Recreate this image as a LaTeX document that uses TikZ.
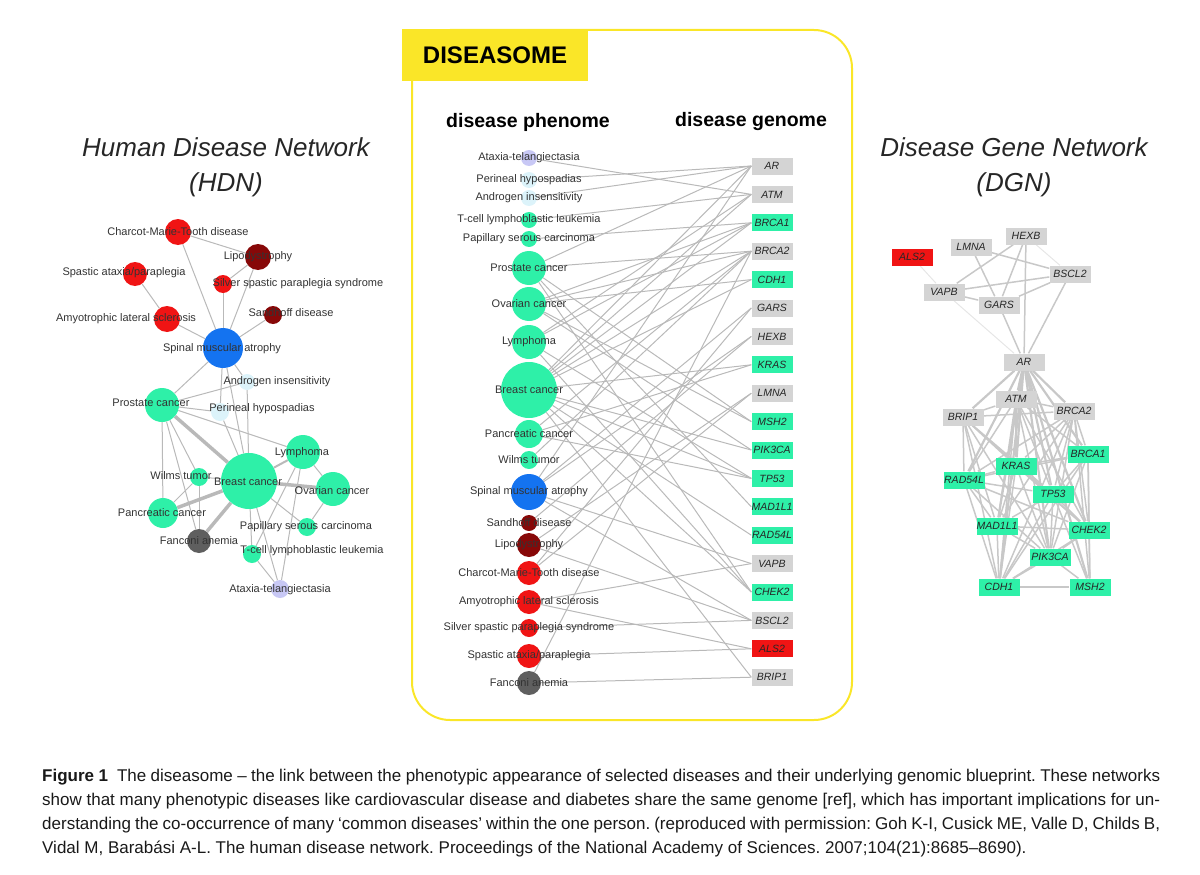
\documentclass[tikz,border=0pt]{standalone}
\usepackage{fontspec}
\setmainfont{Liberation Sans}
\usetikzlibrary{positioning}

\definecolor{cGreen}{RGB}{46,240,168}
\definecolor{cBlue}{RGB}{20,115,240}
\definecolor{cDark}{RGB}{135,8,8}
\definecolor{cRed}{RGB}{240,20,20}
\definecolor{cFan}{RGB}{95,95,95}
\definecolor{cLav}{RGB}{200,200,245}
\definecolor{cCyan}{RGB}{220,243,250}
\definecolor{cBox}{RGB}{212,212,212}
\definecolor{cYel}{RGB}{250,230,40}
\definecolor{cEdge}{RGB}{185,185,185}
\definecolor{cNet}{RGB}{200,200,200}

\pgfdeclarelayer{bg}
\pgfsetlayers{bg,main}

\tikzset{
  dis/.style={circle, inner sep=0pt},
  lab/.style={inner sep=0pt, text=black!80, font=\fontsize{11}{13}\selectfont},
  gene/.style={rectangle, inner sep=0pt, fill=cBox, minimum width=41pt, minimum height=17pt,
    text=black!85, font=\fontsize{10.5}{12}\selectfont\itshape},
  link/.style={draw=cEdge, line width=1pt},
  heavy/.style={draw=cEdge, line width=3.5pt},
  glink/.style={draw=cNet, line width=1.5pt},
  nettitle/.style={font=\fontsize{26}{30}\selectfont\itshape, text=black!85},
  colhead/.style={font=\fontsize{19.5}{22}\selectfont\bfseries},
  capline/.style={anchor=base west, inner sep=0pt, text=black!90, font=\fontsize{17}{20}\selectfont\frenchspacing},
}

\begin{document}
\begin{tikzpicture}[x=1pt, y=-1pt]
\useasboundingbox (0,0) rectangle (1200,875);

% titles
\node[nettitle] (hdn1) at (226,147) {Human Disease Network};
\node[nettitle] (hdn2) at (226,185) {(HDN)};
\node[nettitle] (dgn1) at (1014,147) {Disease Gene Network};
\node[nettitle] (dgn2) at (1014,185) {(DGN)};

% diseasome frame
\draw[cYel, line width=2pt, rounded corners=38pt] (412,30) -- (852,30) -- (852,720) -- (412,720) -- cycle;
\node[fill=cYel, minimum width=186pt, minimum height=52pt, inner sep=0pt,
      font=\fontsize{24}{28}\selectfont\bfseries] (tab) at (495,55) {DISEASOME};
\node[colhead] (phen) at (528,122) {disease phenome};
\node[colhead] (geno) at (751,122) {disease genome};

% disease phenome
\foreach \n/\y/\r/\c/\t in {
  at/158/8/cLav/Ataxia-telangiectasia,
  ph/180/8/cCyan/Perineal hypospadias,
  ai/198/8/cCyan/Androgen insensitivity,
  tc/220/8/cGreen/T-cell lymphoblastic leukemia,
  ps/239/8/cGreen/Papillary serous carcinoma,
  pc/268/17/cGreen/Prostate cancer,
  oc/304/17/cGreen/Ovarian cancer,
  ly/342/17/cGreen/Lymphoma,
  bc/390/28/cGreen/Breast cancer,
  pa/434/14/cGreen/Pancreatic cancer,
  wt/460/9/cGreen/Wilms tumor,
  sma/492/18/cBlue/Spinal muscular atrophy,
  sd/523/8/cDark/Sandhoff disease,
  li/545/12/cDark/Lipodystrophy,
  cmt/573/12/cRed/Charcot-Marie-Tooth disease,
  als/602/12/cRed/Amyotrophic lateral sclerosis,
  ss/628/9/cRed/Silver spastic paraplegia syndrome,
  sa/656/12/cRed/{Spastic ataxia/paraplegia},
  fa/683/12/cFan/Fanconi anemia}
{
  \node[dis, fill=\c, minimum size=2*\r pt] (p-\n) at (529,\y) {};
  \node[lab] (p-\n-t) at (p-\n) {\t};
}

% disease genome
\foreach \g/\c [count=\k from 0] in {AR/cBox, ATM/cBox, BRCA1/cGreen, BRCA2/cBox, CDH1/cGreen,
  GARS/cBox, HEXB/cBox, KRAS/cGreen, LMNA/cBox, MSH2/cGreen, PIK3CA/cGreen, TP53/cGreen,
  MAD1L1/cGreen, RAD54L/cGreen, VAPB/cBox, CHEK2/cGreen, BSCL2/cBox, ALS2/cRed, BRIP1/cBox}
  \node[gene, fill=\c] (m-\g) at (772,{166+28.4*\k}) {\g};

\begin{pgfonlayer}{bg}
\foreach \d/\g in {at/ATM, ph/AR, ai/AR, tc/ATM, ps/BRCA1,
  pc/AR, pc/BRCA2, pc/CHEK2, pc/MAD1L1, pc/MSH2,
  oc/BRCA1, oc/BRCA2, oc/CDH1, oc/MSH2, oc/PIK3CA,
  ly/ATM, ly/BRCA1, ly/TP53, ly/CHEK2,
  bc/AR, bc/ATM, bc/BRCA1, bc/BRCA2, bc/CDH1, bc/KRAS, bc/PIK3CA, bc/TP53, bc/RAD54L, bc/CHEK2, bc/BRIP1,
  pa/BRCA2, pa/KRAS, pa/TP53, wt/BRCA2,
  sma/AR, sma/GARS, sma/HEXB, sma/VAPB, sma/BSCL2,
  sd/HEXB, li/LMNA, li/BSCL2, cmt/GARS, cmt/LMNA,
  als/VAPB, als/ALS2, ss/BSCL2, sa/ALS2, fa/BRCA2, fa/BRIP1}
  \draw[link] (p-\d) -- (m-\g.west);
\end{pgfonlayer}

% human disease network
\foreach \n/\x/\y/\r/\c/\lx/\ly/\t in {
  cmt/178/232/13/cRed/178/232/Charcot-Marie-Tooth disease,
  li/258/257/13/cDark/258/257/Lipodystrophy,
  sa/135/274/12/cRed/124/273/{Spastic ataxia/paraplegia},
  ss/223/284/9/cRed/298/284/Silver spastic paraplegia syndrome,
  sd/273/315/9/cDark/291/313/Sandhoff disease,
  als/167/319/13/cRed/126/319/Amyotrophic lateral sclerosis,
  sma/223/348/20/cBlue/222/349/Spinal muscular atrophy,
  ai/247/382/8/cCyan/277/382/Androgen insensitivity,
  pc/162/405/17/cGreen/151/403/Prostate cancer,
  ph/220/412/9/cCyan/262/409/Perineal hypospadias,
  ly/303/452/17/cGreen/302/453/Lymphoma,
  wt/199/477/9/cGreen/181/476/Wilms tumor,
  bc/249/481/28/cGreen/248/482/Breast cancer,
  oc/333/489/17/cGreen/332/491/Ovarian cancer,
  pa/163/513/15/cGreen/162/513/Pancreatic cancer,
  ps/307/527/9/cGreen/306/527/Papillary serous carcinoma,
  fa/199/541/12/cFan/199/541/Fanconi anemia,
  tc/252/554/9/cGreen/312/551/T-cell lymphoblastic leukemia,
  at/280/589/9/cLav/280/590/Ataxia-telangiectasia}
{
  \node[dis, fill=\c, minimum size=2*\r pt] (h-\n) at (\x,\y) {};
  \node[lab] (h-\n-t) at (\lx,\ly) {\t};
}

\begin{pgfonlayer}{bg}
\foreach \a/\b in {cmt/li, cmt/sma, sa/als, li/ss, li/sma, ss/sma, sd/sma, als/sma,
  sma/ai, sma/ph, sma/bc, sma/pc, pc/ai, pc/ph, pc/ly, pc/pa, pc/wt, pc/fa,
  ai/bc, ph/bc, bc/wt, bc/ps, bc/tc, bc/at, ly/oc, ly/tc, ly/at, oc/ps, tc/at, pa/wt, wt/fa}
  \draw[link] (h-\a) -- (h-\b);
\foreach \a/\b in {pc/bc, bc/oc, bc/pa, bc/fa}
  \draw[heavy] (h-\a) -- (h-\b);
\draw[link, line width=2pt] (h-bc) -- (h-ly);
\end{pgfonlayer}

% disease gene network
\foreach \g/\x/\y/\c in {ALS2/912/257/cRed, LMNA/971/247/cBox, HEXB/1026/236/cBox,
  BSCL2/1070/274/cBox, VAPB/944/292/cBox, GARS/999/305/cBox, AR/1024/362/cBox,
  ATM/1016/399/cBox, BRIP1/963/417/cBox, BRCA2/1074/411/cBox, BRCA1/1088/454/cGreen,
  KRAS/1016/466/cGreen, RAD54L/964/480/cGreen, TP53/1053/494/cGreen,
  MAD1L1/997/526/cGreen, CHEK2/1089/530/cGreen, PIK3CA/1050/557/cGreen,
  CDH1/999/587/cGreen, MSH2/1090/587/cGreen}
  \node[gene, fill=\c] (d-\g) at (\x,\y) {\g};

\begin{pgfonlayer}{bg}
\foreach \a/\b in {ALS2/VAPB, VAPB/AR, HEXB/BSCL2}
  \draw[glink, draw=cNet!45, line width=1pt] (d-\a) -- (d-\b);
\foreach \a/\b in {LMNA/GARS, LMNA/BSCL2, HEXB/VAPB, HEXB/GARS, HEXB/AR, VAPB/BSCL2,
  VAPB/GARS, GARS/BSCL2, GARS/AR, BSCL2/AR}
  \draw[glink] (d-\a) -- (d-\b);
\foreach \b in {ATM, BRIP1, BRCA2, KRAS, TP53, RAD54L, MAD1L1, CDH1, PIK3CA, CHEK2, BRCA1, MSH2}
  \draw[glink, line width=2.2pt] (d-AR) -- (d-\b);
\foreach \a/\b in {ATM/BRIP1, ATM/BRCA2, ATM/KRAS, ATM/TP53, ATM/RAD54L, ATM/CDH1, ATM/PIK3CA,
  ATM/CHEK2, ATM/BRCA1, ATM/MAD1L1,
  BRIP1/BRCA2, BRIP1/KRAS, BRIP1/RAD54L, BRIP1/TP53, BRIP1/CHEK2, BRIP1/PIK3CA, BRIP1/MAD1L1, BRIP1/CDH1,
  BRCA2/BRCA1, BRCA2/KRAS, BRCA2/RAD54L, BRCA2/TP53, BRCA2/MAD1L1, BRCA2/CHEK2, BRCA2/PIK3CA,
  BRCA2/CDH1, BRCA2/MSH2,
  BRCA1/KRAS, BRCA1/TP53, BRCA1/CHEK2, BRCA1/PIK3CA, BRCA1/CDH1, BRCA1/MSH2, BRCA1/RAD54L,
  KRAS/RAD54L, KRAS/TP53, KRAS/MAD1L1, KRAS/PIK3CA, KRAS/CDH1, KRAS/CHEK2,
  RAD54L/TP53, RAD54L/MAD1L1, RAD54L/CDH1, RAD54L/PIK3CA, RAD54L/CHEK2,
  TP53/MAD1L1, TP53/CHEK2, TP53/PIK3CA, TP53/CDH1, TP53/MSH2,
  MAD1L1/PIK3CA, MAD1L1/CDH1, MAD1L1/CHEK2,
  CHEK2/PIK3CA, CHEK2/MSH2, CHEK2/CDH1, PIK3CA/CDH1, PIK3CA/MSH2, CDH1/MSH2}
  \draw[glink] (d-\a) -- (d-\b);
\end{pgfonlayer}

% caption
\node[capline] (cap1) at (42,781) {\makebox[1118pt][s]{\textbf{Figure~1}\hspace{9pt}The diseasome – the link between the phenotypic appearance of selected diseases and their underlying genomic blueprint. These networks}};
\node[capline] (cap2) at (42,805) {\makebox[1118pt][s]{show that many phenotypic diseases like cardiovascular disease and diabetes share the same genome [ref], which has important implications for un-}};
\node[capline] (cap3) at (42,829) {\makebox[1118pt][s]{derstanding the co-occurrence of many ‘common diseases’ within the one person. (reproduced with permission: Goh K-I, Cusick ME, Valle D, Childs B,}};
\node[capline] (cap4) at (42,853) {Vidal M, Barabási A-L. The human disease network. Proceedings of the National Academy of Sciences. 2007;104(21):8685–8690).};

\end{tikzpicture}
\end{document}
